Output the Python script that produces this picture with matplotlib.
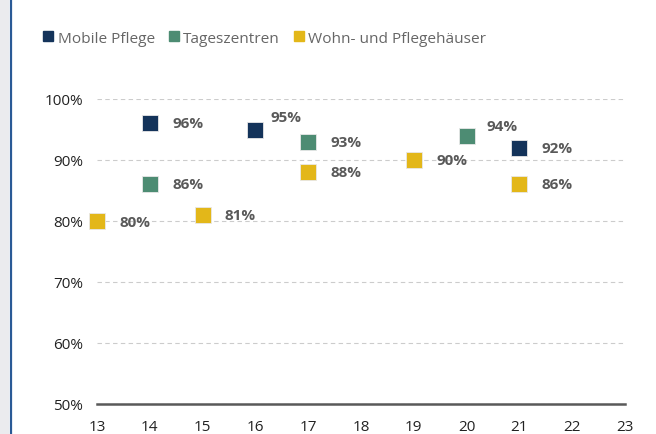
import matplotlib
matplotlib.use("Agg")
import matplotlib.pyplot as plt
from matplotlib.lines import Line2D
from matplotlib.patches import Rectangle
from matplotlib.ticker import FuncFormatter

plt.rcParams["font.family"] = ["Open Sans", "DejaVu Sans"]

# data
series_names = ["Mobile Pflege", "Tageszentren", "Wohn- und Pflegehäuser"]
colors = ["#14335a", "#4d8c73", "#e3b719"]

mobile_x = [14, 16, 21]
mobile_y = [0.96, 0.95, 0.92]
tages_x = [14, 17, 20]
tages_y = [0.86, 0.93, 0.94]
wohn_x = [13, 15, 17, 19, 21]
wohn_y = [0.80, 0.81, 0.88, 0.90, 0.86]

x_ticks = list(range(13, 24))
y_ticks = [0.5, 0.6, 0.7, 0.8, 0.9, 1.0]

# label offsets in points (most sit to the right, two a bit higher)
label_offsets = {
    (16, 0.95): (11, 9),
    (20, 0.94): (14, 7),
    (13, 0.80): (16, -1),
}

fig = plt.figure(figsize=(6.56, 4.35), dpi=100)
ax = fig.add_axes([97 / 656, 1 - 405 / 435, 528 / 656, 305 / 435])

all_series = [(mobile_x, mobile_y), (tages_x, tages_y), (wohn_x, wohn_y)]
for (xs, ys), c in zip(all_series, colors):
    ax.plot(xs, ys, linestyle="none", marker="s", markersize=11,
            markerfacecolor=c, markeredgecolor="#e8e8e8", markeredgewidth=0.6,
            clip_on=False, zorder=3)
    for x, y in zip(xs, ys):
        dx, dy = label_offsets.get((x, y), (16, 0))
        ax.annotate(f"{y * 100:.0f}%", (x, y), xytext=(dx, dy),
                    textcoords="offset points", ha="left", va="center",
                    fontsize=11, fontweight="bold", color="#595959", zorder=4)

ax.set_xlim(13, 23)
ax.set_ylim(0.5, 1.0)
ax.set_xticks(x_ticks)
ax.set_yticks(y_ticks)
ax.yaxis.set_major_formatter(FuncFormatter(lambda v, p: f"{v * 100:.0f}%"))
ax.tick_params(length=0, labelsize=11, colors="#222222")
ax.tick_params(axis="y", pad=10)
ax.tick_params(axis="x", pad=11)
ax.yaxis.grid(True, linestyle=(0, (4, 3)), color="#cccccc", linewidth=0.8)
ax.set_axisbelow(True)
for side in ["left", "right", "top"]:
    ax.spines[side].set_visible(False)
ax.spines["bottom"].set_color("#595959")
ax.spines["bottom"].set_linewidth(1.8)

handles = [Line2D([], [], linestyle="none", marker="s", markersize=7.5,
                  markerfacecolor=c, markeredgecolor=c) for c in colors]
fig.legend(handles, series_names, loc="upper left", bbox_to_anchor=(29 / 656, 1 - 18 / 435),
           ncol=3, frameon=False, fontsize=11.1, labelcolor="#666666",
           handlelength=0.7, handletextpad=0.25, columnspacing=0.9)

# left border strip
fig.patches.append(Rectangle((0, 0), 9 / 656, 1, transform=fig.transFigure,
                             facecolor="#ebebee", edgecolor="none"))
fig.add_artist(Line2D([10.5 / 656, 10.5 / 656], [0, 1], transform=fig.transFigure,
                      color="#2a5a96", linewidth=1.6))

fig.savefig("out.png", dpi=100)
